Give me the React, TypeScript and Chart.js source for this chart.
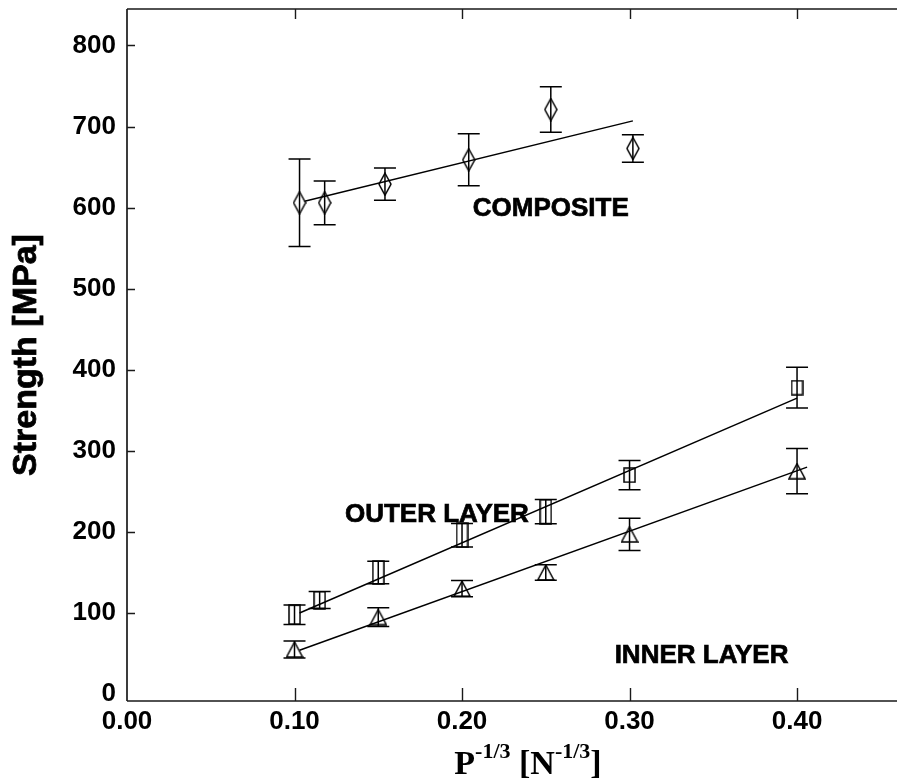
import React, { useEffect, useRef } from "react";
import { Chart, registerables } from "chart.js";

Chart.register(...registerables);

// ---------- data ----------
const compositeX = [0.103, 0.118, 0.154, 0.204, 0.253, 0.302];
const compositeY = [606, 606, 629, 659, 721, 673];
const compositeErr = [54, 27, 20, 32, 28, 17];

const outerX = [0.1, 0.115, 0.15, 0.2, 0.25, 0.3, 0.4];
const outerY = [98, 116, 150, 196, 225, 270, 378];
const outerErr = [12, 10.5, 14, 14.5, 15, 18, 25];

const innerX = [0.1, 0.15, 0.2, 0.25, 0.3, 0.4];
const innerY = [55, 95, 130, 150, 197, 275];
const innerErr = [10.5, 11.5, 10, 9.5, 20, 28];

const compositeFitX = [0.106, 0.302];
const compositeFitY = [608, 707];
const outerFitX = [0.103, 0.4];
const outerFitY = [100, 365];
const innerFitX = [0.103, 0.406];
const innerFitY = [54, 280];

const xTickValues = [0, 0.1, 0.2, 0.3, 0.4];
const yTickValues = [0, 100, 200, 300, 400, 500, 600, 700, 800];

const seriesLabels = ["COMPOSITE", "OUTER LAYER", "INNER LAYER"];
const seriesLabelX = [0.253, 0.185, 0.343];
const seriesLabelY = [598, 221, 47];

const yTitle = "Strength [MPa]";
const xTitleParts = [
  { t: "P", sup: false },
  { t: "-1/3", sup: true },
  { t: " [N", sup: false },
  { t: "-1/3", sup: true },
  { t: "]", sup: false },
];

// ---------- helpers ----------
const SANS = '"Liberation Sans", Arial, sans-serif';
const SERIF = '"Liberation Serif", "Times New Roman", serif';

function makeCanvas(w: number, h: number, draw: (c: CanvasRenderingContext2D) => void) {
  const c = document.createElement("canvas");
  c.width = w;
  c.height = h;
  const g = c.getContext("2d")!;
  g.strokeStyle = "#000";
  g.lineWidth = 1.5;
  draw(g);
  return c;
}

const rectCache: Record<number, HTMLCanvasElement> = {};
function rectMarker(h: number) {
  const hh = Math.max(6, Math.round(h));
  if (!rectCache[hh]) {
    rectCache[hh] = makeCanvas(13, hh + 2, (g) => {
      g.strokeRect(1, 1, 11, hh);
    });
  }
  return rectCache[hh];
}

const frameAndText = {
  id: "frameAndText",
  beforeDatasetsDraw(chart: any) {
    const { ctx, scales } = chart;
    const x = scales.x;
    const y = scales.y;
    ctx.save();
    ctx.strokeStyle = "#000";
    ctx.lineWidth = 1.5;
    chart.data.datasets.forEach((ds: any) => {
      if (!ds.errs) return;
      ds.data.forEach((p: any, i: number) => {
        const px = x.getPixelForValue(p.x);
        const t = y.getPixelForValue(p.y + ds.errs[i]);
        const b = y.getPixelForValue(p.y - ds.errs[i]);
        ctx.beginPath();
        ctx.moveTo(px, t);
        ctx.lineTo(px, b);
        ctx.moveTo(px - 11, t);
        ctx.lineTo(px + 11, t);
        ctx.moveTo(px - 11, b);
        ctx.lineTo(px + 11, b);
        ctx.stroke();
      });
    });
    ctx.restore();
  },
  afterDraw(chart: any) {
    const { ctx, chartArea, scales, width } = chart;
    const x = scales.x;
    const y = scales.y;
    const { left, top, bottom } = chartArea;
    ctx.save();
    ctx.strokeStyle = "#1a1a1a";
    ctx.lineWidth = 1.7;
    ctx.beginPath();
    ctx.moveTo(left, top);
    ctx.lineTo(width, top);
    ctx.moveTo(left, top);
    ctx.lineTo(left, bottom);
    ctx.moveTo(left, bottom);
    ctx.lineTo(width, bottom);
    ctx.stroke();

    ctx.lineWidth = 1.4;
    ctx.beginPath();
    xTickValues.forEach((v) => {
      if (v === 0) return;
      const px = Math.round(x.getPixelForValue(v)) + 0.5;
      ctx.moveTo(px, bottom);
      ctx.lineTo(px, bottom - 13);
      ctx.moveTo(px, top);
      ctx.lineTo(px, top + 10);
    });
    yTickValues.forEach((v) => {
      if (v === 0) return;
      const py = Math.round(y.getPixelForValue(v)) + 0.5;
      ctx.moveTo(left, py);
      ctx.lineTo(left + 8, py);
    });
    ctx.stroke();

    // series labels
    ctx.fillStyle = "#000";
    ctx.strokeStyle = "#000";
    ctx.lineWidth = 0.7;
    ctx.font = `bold 26px ${SANS}`;
    ctx.textAlign = "center";
    ctx.textBaseline = "middle";
    seriesLabels.forEach((s, i) => {
      const px = x.getPixelForValue(seriesLabelX[i]);
      const py = y.getPixelForValue(seriesLabelY[i]);
      ctx.fillText(s, px, py);
      ctx.strokeText(s, px, py);
    });

    // y title
    ctx.save();
    ctx.translate(27, 355);
    ctx.rotate(-Math.PI / 2);
    ctx.font = `bold 34px ${SANS}`;
    ctx.textAlign = "center";
    ctx.textBaseline = "middle";
    ctx.lineWidth = 0.8;
    ctx.fillText(yTitle, 0, 0);
    ctx.strokeText(yTitle, 0, 0);
    ctx.restore();

    // x title with superscripts
    const mainFont = `bold 34px ${SERIF}`;
    const supFont = `bold 22px ${SERIF}`;
    let total = 0;
    xTitleParts.forEach((p) => {
      ctx.font = p.sup ? supFont : mainFont;
      total += ctx.measureText(p.t).width;
    });
    let cx = 528 - total / 2;
    ctx.textAlign = "left";
    ctx.textBaseline = "alphabetic";
    xTitleParts.forEach((p) => {
      ctx.font = p.sup ? supFont : mainFont;
      ctx.fillText(p.t, cx, p.sup ? 758 : 774);
      cx += ctx.measureText(p.t).width;
    });
    ctx.restore();
  },
};

export default function App() {
  const ref = useRef<HTMLCanvasElement | null>(null);

  useEffect(() => {
    if (!ref.current) return;
    const diamond = makeCanvas(14, 24, (g) => {
      g.beginPath();
      g.moveTo(7, 1);
      g.lineTo(13, 12);
      g.lineTo(7, 23);
      g.lineTo(1, 12);
      g.closePath();
      g.stroke();
    });
    const triangle = makeCanvas(18, 17, (g) => {
      g.beginPath();
      g.moveTo(9, 1);
      g.lineTo(17, 16);
      g.lineTo(1, 16);
      g.closePath();
      g.stroke();
    });

    const pts = (xs: number[], ys: number[]) => xs.map((v, i) => ({ x: v, y: ys[i] }));

    const chart = new Chart(ref.current, {
      type: "scatter",
      data: {
        datasets: [
          {
            label: "Composite",
            data: pts(compositeX, compositeY),
            errs: compositeErr,
            pointStyle: diamond,
            pointRadius: 8,
            showLine: false,
          } as any,
          {
            label: "Outer layer",
            data: pts(outerX, outerY),
            errs: outerErr,
            pointRadius: 8,
            pointStyle: (c: any) => {
              const ys = c.chart.scales.y;
              const i = c.dataIndex;
              const span = Math.abs(
                ys.getPixelForValue(outerY[i] - outerErr[i]) - ys.getPixelForValue(outerY[i] + outerErr[i])
              );
              return rectMarker(span <= 26 ? span : 14);
            },
            showLine: false,
          } as any,
          {
            label: "Inner layer",
            data: pts(innerX, innerY),
            errs: innerErr,
            pointStyle: triangle,
            pointRadius: 8,
            showLine: false,
          } as any,
          {
            label: "Composite fit",
            data: pts(compositeFitX, compositeFitY),
            showLine: true,
            borderColor: "#000",
            borderWidth: 1.5,
            pointRadius: 0,
          },
          {
            label: "Outer fit",
            data: pts(outerFitX, outerFitY),
            showLine: true,
            borderColor: "#000",
            borderWidth: 1.5,
            pointRadius: 0,
          },
          {
            label: "Inner fit",
            data: pts(innerFitX, innerFitY),
            showLine: true,
            borderColor: "#000",
            borderWidth: 1.5,
            pointRadius: 0,
          },
        ],
      },
      options: {
        animation: false,
        responsive: false,
        devicePixelRatio: 1,
        layout: { padding: { top: 8, left: 0, right: 0, bottom: 0 } },
        plugins: { legend: { display: false }, tooltip: { enabled: false } },
        scales: {
          x: {
            type: "linear",
            min: 0,
            max: 0.4543,
            grid: { display: false, drawTicks: false },
            border: { display: false },
            afterBuildTicks: (s: any) => {
              s.ticks = xTickValues.map((v) => ({ value: v }));
            },
            afterFit: (s: any) => {
              s.height = 79;
              s.paddingLeft = 0;
              s.paddingRight = 0;
            },
            ticks: {
              color: "#000",
              font: { family: SANS, size: 26, weight: "bold" },
              padding: 5,
              maxRotation: 0,
              callback: (v: any) => Number(v).toFixed(2),
            },
          },
          y: {
            type: "linear",
            min: -8.5,
            max: 845,
            grid: { display: false, drawTicks: false },
            border: { display: false },
            afterBuildTicks: (s: any) => {
              s.ticks = yTickValues.map((v) => ({ value: v }));
            },
            afterFit: (s: any) => {
              s.width = 127;
              s.paddingTop = 0;
              s.paddingBottom = 0;
            },
            ticks: {
              color: "#000",
              font: { family: SANS, size: 26, weight: "bold" },
              padding: 11,
              callback: (v: any) => String(v),
            },
          },
        },
      } as any,
      plugins: [frameAndText],
    });
    return () => chart.destroy();
  }, []);

  return (
    <div style={{ position: "absolute", left: 0, top: 0, width: 897, height: 780, background: "#fff" }}>
      <canvas ref={ref} width={897} height={780} style={{ display: "block" }} />
    </div>
  );
}
